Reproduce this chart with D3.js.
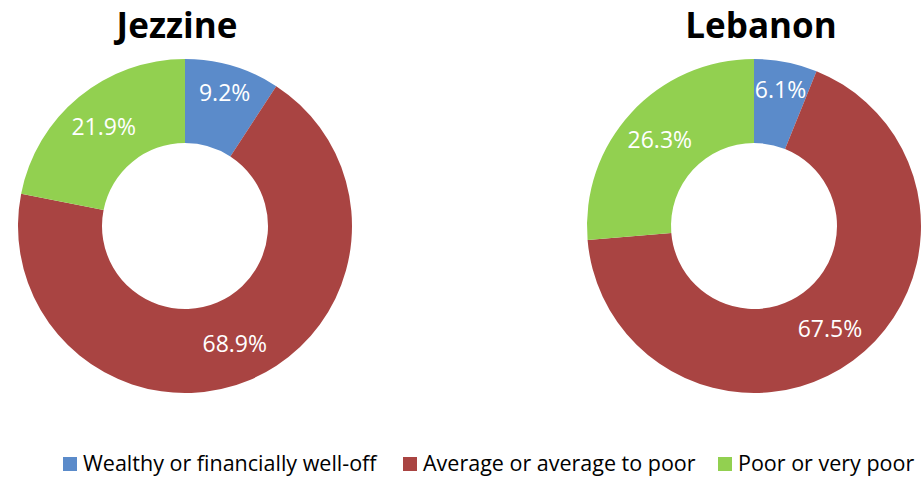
<!DOCTYPE html>
<html><head><meta charset="utf-8">
<script src="https://cdn.jsdelivr.net/npm/d3@7"></script>
<style>body{margin:0;background:#fff}svg{display:block}</style>
</head><body>
<svg id="chart" width="923" height="480"></svg>
<script>
const categories = ["Wealthy or financially well-off", "Average or average to poor", "Poor or very poor"];
const regions = ["Jezzine", "Lebanon"];
const jezzineValues = [9.2, 68.9, 21.9];
const lebanonValues = [6.1, 67.5, 26.3];
const colors = ["#5B8BCA", "#A94442", "#92D050"];

const seriesList = [jezzineValues, lebanonValues];
const svg = d3.select("#chart");
const font = "'Open Sans', sans-serif";
const color = d3.scaleOrdinal().domain(categories).range(colors);
const centers = [185, 754];
const cy = 226, rOuter = 167, rInner = 83;

const pie = d3.pie().sort(null).value(d => d.v);
const arc = d3.arc().innerRadius(rInner).outerRadius(rOuter);

regions.forEach((name, i) => {
  const g = svg.append("g").attr("transform", `translate(${centers[i]},${cy})`);
  const data = pie(categories.map((c, k) => ({c, v: seriesList[i][k]})));
  g.selectAll("path").data(data).join("path")
    .attr("d", arc).attr("fill", d => color(d.data.c));
  g.selectAll("text").data(data).join("text")
    .attr("transform", d => {
      const r = d.data.v < 10 ? 139 : 128;
      const a = (d.startAngle + d.endAngle) / 2;
      return `translate(${r * Math.sin(a)},${-r * Math.cos(a)})`;
    })
    .attr("text-anchor", "middle").attr("dy", "0.36em")
    .attr("fill", "#fff").style("font-family", font).style("font-size", "23px")
    .text(d => d.data.v.toFixed(1) + "%");
  svg.append("text").attr("x", centers[i] + (i === 0 ? -8 : 7)).attr("y", 38)
    .attr("text-anchor", "middle").style("font-family", font)
    .style("font-weight", "bold").style("font-size", "35px").attr("fill", "#000")
    .text(name);
});

const legendX = [63, 403, 718];
const lg = svg.append("g");
categories.forEach((c, k) => {
  lg.append("rect").attr("x", legendX[k]).attr("y", 457).attr("width", 14).attr("height", 14)
    .attr("fill", color(c));
  lg.append("text").attr("x", legendX[k] + 20).attr("y", 471)
    .style("font-family", font).style("font-size", "21.5px").attr("fill", "#000").text(c);
});
</script>
</body></html>
